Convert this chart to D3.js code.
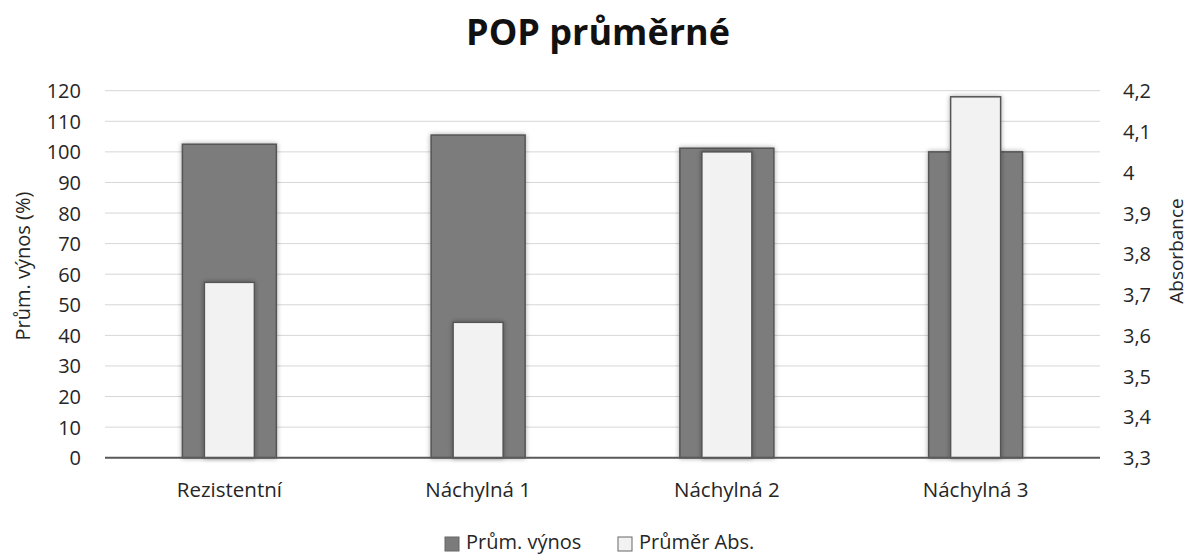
<!DOCTYPE html>
<html><head><meta charset="utf-8">
<script src="https://cdn.jsdelivr.net/npm/d3@7"></script>
<style>body{margin:0;background:#fff}svg{display:block}text{font-family:"Open Sans",sans-serif;fill:#262626}</style>
</head><body><svg id="c" width="1190" height="554"></svg>
<script>
const categories = ["Rezistentní","Náchylná 1","Náchylná 2","Náchylná 3"];
const vynos = [102.5, 105.5, 101.2, 100.0];
const absorb = [3.73, 3.632, 4.05, 4.185];
const leftTicks = [0,10,20,30,40,50,60,70,80,90,100,110,120];
const rightTicks = [3.3,3.4,3.5,3.6,3.7,3.8,3.9,4.0,4.1,4.2];
const seriesNames = ["Prům. výnos","Průměr Abs."];

const FONT = "'Open Sans',sans-serif";
const svg = d3.select("#c");
const m = {l:105, r:1100, t:90.7, b:457.7};
const x = d3.scaleBand().domain(categories).range([m.l, m.r]);
const yL = d3.scaleLinear().domain([0,120]).range([m.b, m.t]);
const yR = d3.scaleLinear().domain([3.3,4.2]).range([m.b, m.t]);

const defs = svg.append("defs");
const f = defs.append("filter").attr("id","sh").attr("x","-20%").attr("y","-20%").attr("width","140%").attr("height","140%");
f.append("feGaussianBlur").attr("in","SourceAlpha").attr("stdDeviation",2.5).attr("result","b");
f.append("feComponentTransfer").attr("in","b").attr("result","b2").append("feFuncA").attr("type","linear").attr("slope",0.35);
const mg = f.append("feMerge"); mg.append("feMergeNode").attr("in","b2"); mg.append("feMergeNode").attr("in","SourceGraphic");

// title
svg.append("text").attr("x",598).attr("y",45).attr("text-anchor","middle").attr("font-size",36).attr("font-weight","bold").style("fill","#111").text("POP průměrné");

// gridlines
svg.append("g").selectAll("line").data(leftTicks.slice(1)).join("line")
  .attr("x1",m.l).attr("x2",m.r).attr("y1",d=>yL(d)).attr("y2",d=>yL(d))
  .attr("stroke","#d6d6d6").attr("stroke-width",1);

// left axis
const la = svg.append("g").attr("transform",`translate(${m.l},0)`).call(d3.axisLeft(yL).tickValues(leftTicks).tickSize(0).tickPadding(24));
la.select(".domain").remove();
la.selectAll("text").attr("font-size",20).attr("dy","0.35em").style("font-family",FONT).style("fill","#262626");

// right axis
const ra = svg.append("g").attr("transform",`translate(${m.r},0)`).call(d3.axisRight(yR).tickValues(rightTicks).tickSize(0).tickPadding(23).tickFormat(d=>d3.format("~g")(d).replace(".",",")));
ra.select(".domain").remove();
ra.selectAll("text").attr("font-size",20).attr("dy","0.35em").style("font-family",FONT).style("fill","#262626");

// bars
const bw = 94, lw = 50;
svg.append("g").selectAll("rect").data(categories).join("rect")
  .attr("x",(d)=>x(d)+x.bandwidth()/2-bw/2).attr("width",bw)
  .attr("y",(d,i)=>yL(vynos[i])).attr("height",(d,i)=>yL(0)-yL(vynos[i]))
  .attr("fill","#7b7b7b").attr("stroke","#555").attr("stroke-width",1.5).attr("filter","url(#sh)");
svg.append("g").selectAll("rect").data(categories).join("rect")
  .attr("x",(d)=>x(d)+x.bandwidth()/2-lw/2).attr("width",lw)
  .attr("y",(d,i)=>yR(absorb[i])).attr("height",(d,i)=>yR(3.3)-yR(absorb[i]))
  .attr("fill","#f2f2f2").attr("stroke","#555").attr("stroke-width",1.5).attr("filter","url(#sh)");

// x axis
svg.append("line").attr("x1",m.l).attr("x2",m.r).attr("y1",m.b).attr("y2",m.b).attr("stroke","#595959").attr("stroke-width",2);
svg.append("g").selectAll("text").data(categories).join("text")
  .attr("x",d=>x(d)+x.bandwidth()/2).attr("y",497).attr("text-anchor","middle").attr("font-size",20.5).text(d=>d);

// axis titles
svg.append("text").attr("transform",`translate(30,266) rotate(-90)`).attr("text-anchor","middle").attr("font-size",20).text("Prům. výnos (%)");
svg.append("text").attr("transform",`translate(1183,251) rotate(-90)`).attr("text-anchor","middle").attr("font-size",19).text("Absorbance");

// legend
const lg = svg.append("g");
const items = [{n:seriesNames[0],fill:"#7b7b7b",x:445},{n:seriesNames[1],fill:"#f2f2f2",x:618}];
items.forEach(it=>{
  lg.append("rect").attr("x",it.x).attr("y",537).attr("width",14).attr("height",14).attr("fill",it.fill).attr("stroke","#666").attr("stroke-width",1);
  lg.append("text").attr("x",it.x+21).attr("y",549).attr("font-size",20).text(it.n);
});
</script></body></html>
